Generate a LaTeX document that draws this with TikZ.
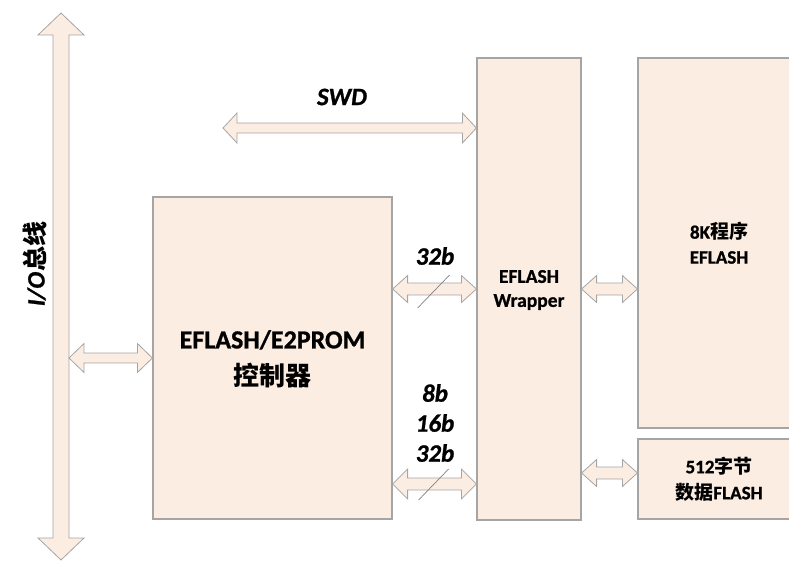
\documentclass[tikz,border=0pt]{standalone}
\usepackage{fontspec}
\setmainfont{Carlito}[BoldFeatures={FakeBold=1}, BoldItalicFeatures={FakeBold=1}]
\newfontfamily\cjk{Noto Sans CJK SC}[AutoFakeSlant=0.2]
\usetikzlibrary{calc}
\definecolor{peach}{RGB}{252,237,226}
\definecolor{edgegray}{RGB}{165,165,165}
\tikzset{
  blk/.style={draw=edgegray, fill=peach, line width=1.2pt, minimum width=#1, inner sep=0pt},
  barrow/.style={draw=edgegray, fill=peach, line width=0.8pt, line join=miter},
  slashline/.style={draw=gray, line width=0.7pt},
  lbl/.style={font=\bfseries\itshape\fontsize{25}{28}\selectfont, inner sep=0pt},
  boxtxt/.style={font=\bfseries\fontsize{19.5}{24}\selectfont, align=center, inner sep=0pt},
}
% horizontal double block arrow: #1 left tip, #2 right tip, #3 half shaft, #4 half head, #5 head length
\newcommand\hblockarrow[5]{%
  \draw[barrow] let \p1=#1, \p2=#2 in
    (\x1,\y1) -- (\x1+#5,\y1+#4) -- (\x1+#5,\y1+#3) -- (\x2-#5,\y1+#3) -- (\x2-#5,\y1+#4) -- (\x2,\y1)
    -- (\x2-#5,\y1-#4) -- (\x2-#5,\y1-#3) -- (\x1+#5,\y1-#3) -- (\x1+#5,\y1-#4) -- cycle;}
% vertical double block arrow: #1 top tip, #2 bottom tip
\newcommand\vblockarrow[5]{%
  \draw[barrow] let \p1=#1, \p2=#2 in
    (\x1,\y1) -- (\x1+#4,\y1-#5) -- (\x1+#3,\y1-#5) -- (\x1+#3,\y2+#5) -- (\x1+#4,\y2+#5) -- (\x1,\y2)
    -- (\x1-#4,\y2+#5) -- (\x1-#3,\y2+#5) -- (\x1-#3,\y1-#5) -- (\x1-#4,\y1-#5) -- cycle;}
\begin{document}
\begin{tikzpicture}[x=1pt,y=-1pt]
\useasboundingbox (0,0) rectangle (789,561);
\clip (0,0) rectangle (789,561);
% boxes
\node[blk=239pt, minimum height=322pt] (ctrl) at (272.5,358) {};
\node[boxtxt, font=\bfseries\fontsize{26}{37}\selectfont] at ($(ctrl.center)+(0,1)$) {EFLASH/E2PROM\\{\cjk 控制器}};
\node[blk=104pt, minimum height=462pt] (wrap) at (529,289) {};
\node[boxtxt] at ($(wrap.center)+(0,1)$) {EFLASH\\Wrapper};
\node[blk=162pt, minimum height=370pt] (prog) at (719,243) {};
\node[boxtxt, font=\bfseries\fontsize{19}{25}\selectfont] at (prog.center) {8K{\cjk 程序}\\EFLASH};
\node[blk=162pt, minimum height=80pt] (data) at (719,479) {};
\node[boxtxt, font=\bfseries\fontsize{19}{26}\selectfont] at (data.center) {512{\cjk 字节}\\{\cjk 数据}FLASH};
% I/O bus
\coordinate (busTop) at (61,13);
\coordinate (busBot) at (61,560);
\vblockarrow{(busTop)}{(busBot)}{8}{23}{22}
\node[lbl, rotate=90] (iolbl) at (35,264) {I/O{\cjk 总线}};
% SWD
\coordinate (swdL) at (223,128);
\hblockarrow{(swdL)}{($(wrap.north west)+(0,70)$)}{5}{15}{14}
\node[lbl] (swdlbl) at (342,97) {SWD};
% bus to controller
\coordinate (busR) at (69,358);
\hblockarrow{(busR)}{(ctrl.west |- busR)}{5}{14.5}{15}
% controller to wrapper, upper
\hblockarrow{(ctrl.east |- wrap.west)}{(wrap.west)}{6}{13.5}{15}
\draw[slashline] ($(ctrl.east |- wrap.west)+(25,19)$) -- ++(32,-33);
\node[lbl] (b32a) at (435,256) {32b};
% controller to wrapper, lower
\coordinate (lowY) at (0,484);
\hblockarrow{(ctrl.east |- lowY)}{(wrap.west |- lowY)}{6}{15}{15}
\draw[slashline] ($(ctrl.east |- lowY)+(26,16)$) -- ++(30,-31);
\node[lbl] (b8) at (435,393) {8b};
\node[lbl] (b16) at (435,423) {16b};
\node[lbl] (b32b) at (435,453) {32b};
% wrapper to program flash
\hblockarrow{(wrap.east)}{(prog.west |- wrap.east)}{6}{13.5}{15}
% wrapper to data flash
\coordinate (dY) at (0,473);
\hblockarrow{(wrap.east |- dY)}{(data.west |- dY)}{6}{13.5}{15}
\end{tikzpicture}
\end{document}
